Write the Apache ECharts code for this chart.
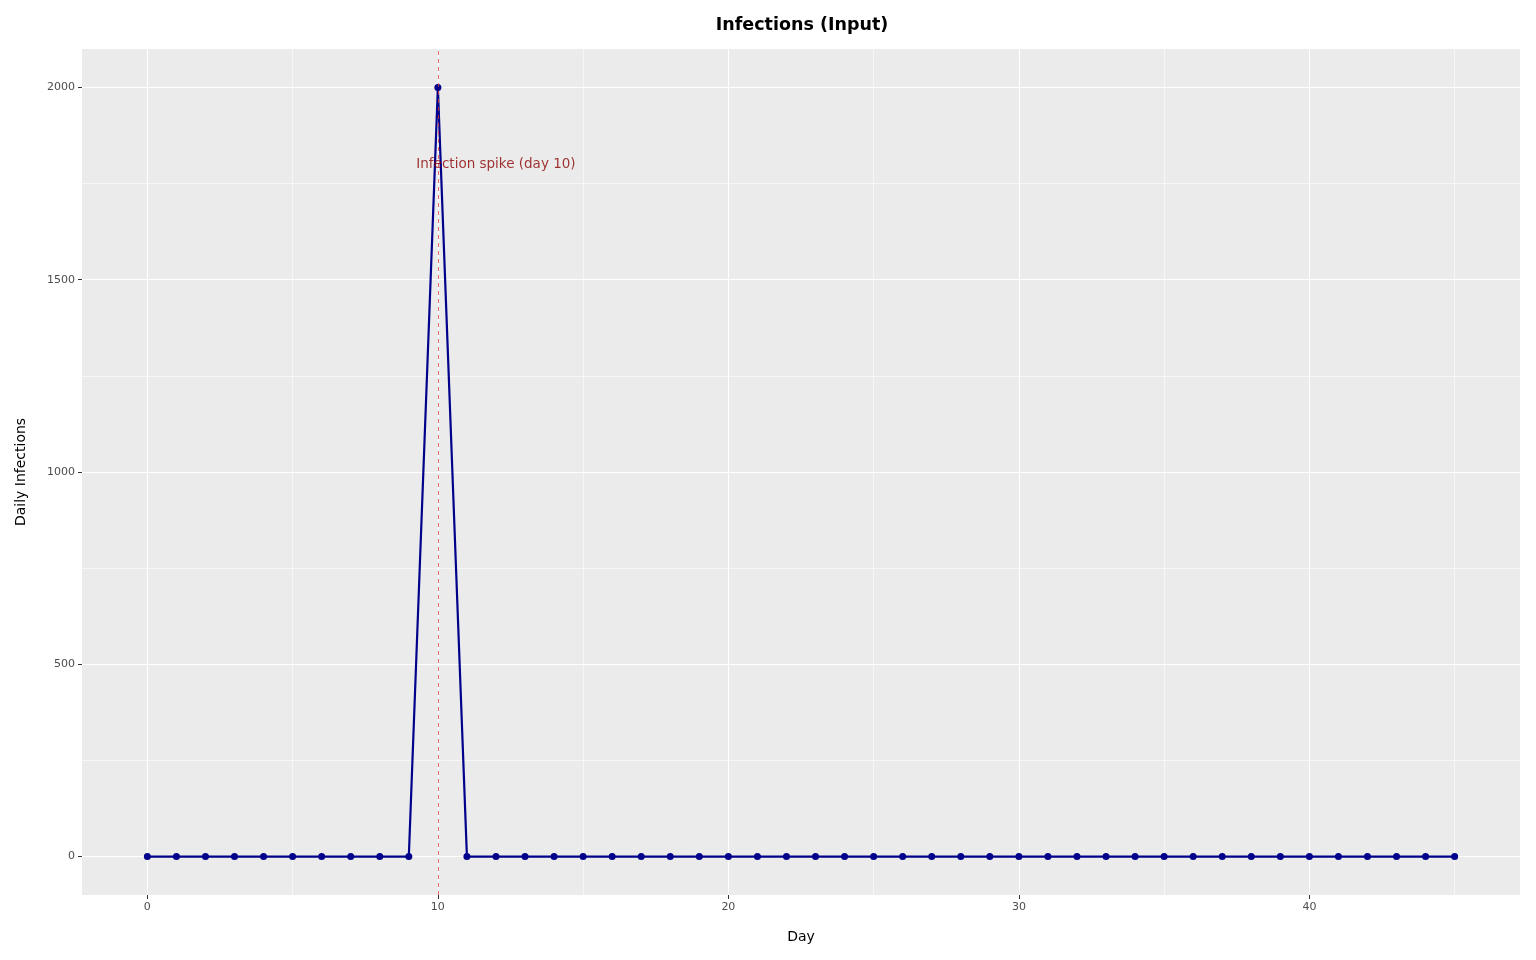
<!DOCTYPE html>
<html><head><meta charset="utf-8">
<script src="https://cdn.jsdelivr.net/npm/echarts@6/dist/echarts.min.js"></script>
<style>html,body{margin:0;padding:0;background:#fff}#c{width:1536px;height:960px}</style>
</head><body><div id="c"></div>
<script>
const days = Array.from({length: 46}, (_, i) => i);
const infections = [0,0,0,0,0,0,0,0,0,0,2000,0,0,0,0,0,0,0,0,0,0,0,0,0,0,0,0,0,0,0,0,0,0,0,0,0,0,0,0,0,0,0,0,0,0,0];
const xTicks = [0, 10, 20, 30, 40];
const yTicks = [0, 500, 1000, 1500, 2000];
const xMinor = [5, 15, 25, 35, 45];
const yMinor = [250, 750, 1250, 1750];
const spikeDay = 10;
const annotation = {x: 12, y: 1800, text: 'Infection spike (day 10)'};

const font = 'DejaVu Sans';
const chart = echarts.init(document.getElementById('c'));
const gridLines = [];
xTicks.forEach(v => gridLines.push({xAxis: v, lineStyle: {width: 1.1}}));
yTicks.forEach(v => gridLines.push({yAxis: v, lineStyle: {width: 1.1}}));
xMinor.forEach(v => gridLines.push({xAxis: v, lineStyle: {width: 0.55}}));
yMinor.forEach(v => gridLines.push({yAxis: v, lineStyle: {width: 0.55}}));

chart.setOption({
  animation: false,
  backgroundColor: '#fff',
  title: {
    text: 'Infections (Input)', left: 797, top: 11, textAlign: 'center',
    textStyle: {fontFamily: font, fontSize: 17.5, fontWeight: 'bold', color: '#000'}
  },
  grid: {left: 82, right: 16, top: 49, bottom: 65, show: true, backgroundColor: '#EBEBEB', borderWidth: 0, containLabel: false},
  xAxis: {
    type: 'value', min: -2.25, max: 47.25,
    name: 'Day', nameLocation: 'middle', nameGap: 35,
    nameTextStyle: {fontFamily: font, fontSize: 14, color: '#000'},
    axisLine: {show: true, onZero: false, lineStyle: {color: 'rgba(0,0,0,0)'}},
    axisTick: {show: true, length: 4, lineStyle: {color: '#333', width: 1}, customValues: xTicks},
    axisLabel: {fontFamily: font, fontSize: 11, color: '#4D4D4D', margin: 7, customValues: xTicks,
      formatter: v => String(v)},
    splitLine: {show: false}
  },
  yAxis: {
    type: 'value', min: -100, max: 2100,
    name: 'Daily Infections', nameLocation: 'middle', nameGap: 54,
    nameTextStyle: {fontFamily: font, fontSize: 14, color: '#000'},
    axisLine: {show: true, onZero: false, lineStyle: {color: 'rgba(0,0,0,0)'}},
    axisTick: {show: true, length: 4, lineStyle: {color: '#333', width: 1}, customValues: yTicks},
    axisLabel: {fontFamily: font, fontSize: 11, color: '#4D4D4D', margin: 7, customValues: yTicks,
      formatter: v => String(v)},
    splitLine: {show: false}
  },
  series: [
    {
      type: 'line', data: [], z: 1, silent: true,
      markLine: {z: 1, silent: true, symbol: 'none', label: {show: false}, animation: false,
        lineStyle: {color: '#fff', type: 'solid'}, data: gridLines}
    },
    {
      type: 'line', z: 3,
      data: days.map((d, i) => [d, infections[i]]),
      lineStyle: {color: '#00008B', width: 2.2},
      itemStyle: {color: '#00008B'},
      symbol: 'circle', symbolSize: 7, showSymbol: true
    },
    {
      type: 'line', data: [], z: 4, silent: true,
      markLine: {z: 10, silent: true, symbol: 'none', label: {show: false}, animation: false,
        lineStyle: {color: 'rgba(230,60,60,0.75)', type: [4, 4], width: 1},
        data: [{xAxis: spikeDay}]}
    },
    {
      type: 'scatter', z: 11, silent: true, symbolSize: 0,
      data: [[annotation.x, annotation.y]],
      label: {show: true, position: 'inside', formatter: annotation.text,
        fontFamily: font, fontSize: 13.5, color: '#8B0000'}
    }
  ]
});
</script></body></html>
